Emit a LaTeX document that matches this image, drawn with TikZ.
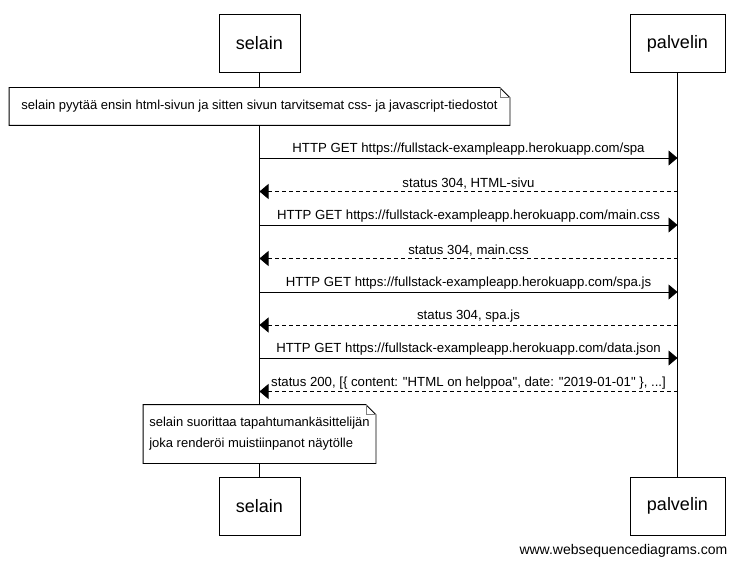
\documentclass[tikz,border=0pt]{standalone}
\usepackage{fontspec}
\setmainfont{Liberation Sans}[Ligatures=TeXOff]
\usetikzlibrary{arrows.meta}
\tikzset{
  actor/.style={draw,fill=white,minimum height=58pt,inner xsep=17pt,font=\fontsize{18}{20}\selectfont},
  note/.style={fill=white,inner xsep=5pt,font=\fontsize{13}{21}\selectfont},
  msg/.style={-{Triangle[length=9pt,width=15pt]}},
  reply/.style={msg,dash pattern=on 4pt off 3pt},
  lbl/.style={above,inner sep=2pt,font=\fontsize{13.2}{15}\selectfont},
}
\newcommand{\taite}[1]{%
  \draw (#1.north west) -- ([xshift=-10pt]#1.north east) -- ([yshift=-10pt]#1.north east) -- (#1.south east) -- (#1.south west) -- cycle;
  \draw[gray] ([xshift=-10pt]#1.north east) |- ([yshift=-10pt]#1.north east);}

\begin{document}
\begin{tikzpicture}[x=1pt,y=-1pt,line width=0.8pt]
\useasboundingbox (0,0) rectangle (739,567);
\node[actor] (selain) at (259.5,43.5) {selain};
\node[actor] (palvelin) at (677.5,43.5) {palvelin};
\node[actor] (selainB) at (259.5,506) {selain};
\node[actor] (palvelinB) at (677.5,506) {palvelin};
\draw (selain) -- (selainB);
\draw (palvelin) -- (palvelinB);

% huomautukset
\node[note,minimum width=500pt,minimum height=37pt] (huom1) at (259.5,106.5)
  {selain pyytää ensin html-sivun ja sitten sivun tarvitsemat css- ja javascript-tiedostot};
\taite{huom1}
\node[note,minimum width=232pt,minimum height=58pt,align=left] (huom2) at (259.5,434)
  {selain suorittaa tapahtumankäsittelijän\\joka renderöi muistiinpanot näytölle};
\taite{huom2}

% viestit
\foreach \i/\y in {1/158,2/191.5,3/225,4/258.5,5/292,6/325,7/358,8/391.5}{
  \coordinate (s\i) at (selain.center |- 0,\y);
  \coordinate (p\i) at (palvelin.center |- 0,\y);
}
\path
(s1) edge[msg] node[lbl] {HTTP GET https://fullstack-exampleapp.herokuapp.com/spa} (p1)
(p2) edge[reply] node[lbl] {status 304, HTML-sivu} (s2)
(s3) edge[msg] node[lbl] {HTTP GET https://fullstack-exampleapp.herokuapp.com/main.css} (p3)
(p4) edge[reply] node[lbl] {status 304, main.css} (s4)
(s5) edge[msg] node[lbl] {HTTP GET https://fullstack-exampleapp.herokuapp.com/spa.js} (p5)
(p6) edge[reply] node[lbl] {status 304, spa.js} (s6)
(s7) edge[msg] node[lbl] {HTTP GET https://fullstack-exampleapp.herokuapp.com/data.json} (p7)
(p8) edge[reply] node[lbl] {status 200, [\{ content: "HTML on helppoa", date: "2019-01-01" \}, ...]} (s8)
;

\node[anchor=east,font=\fontsize{14}{16}\selectfont] (vesileima) at (731,551) {www.websequencediagrams.com};
\end{tikzpicture}
\end{document}
